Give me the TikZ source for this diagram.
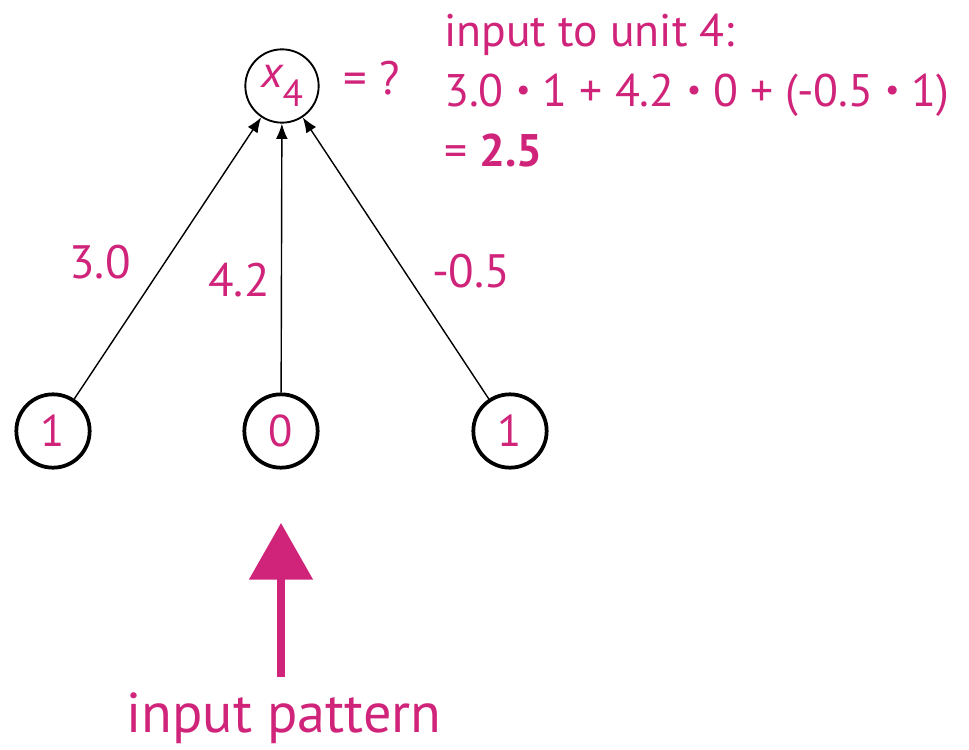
\documentclass[tikz,border=0pt]{standalone}
\usepackage{fontspec}
\setmainfont{PT Sans}
\usetikzlibrary{positioning,arrows.meta}
\definecolor{wtpink}{RGB}{208,36,122}
\newcommand{\mydot}{\ \raisebox{0.12em}{\scalebox{0.7}{\textbullet}}\ }
\tikzset{
  unit/.style   ={draw, circle, line width=3.2pt, minimum size=2.2cm, inner sep=0pt, text=wtpink, font=\fontsize{38}{42}\selectfont},
  outunit/.style={draw, circle, line width=1.6pt, minimum size=2.2cm, inner sep=0pt, text=wtpink, font=\fontsize{38}{42}\selectfont},
  wt/.style     ={text=wtpink, font=\fontsize{40}{46}\selectfont, inner sep=0pt},
  arr/.style    ={-{Latex[length=13pt, width=10pt]}, line width=1.2pt},
  bigarr/.style ={-{Triangle[length=1.7cm, width=1.86cm]}, line width=0.24cm, wtpink},
}
\begin{document}
\begin{tikzpicture}[x=0.03cm, y=-0.03cm]
  \useasboundingbox (0,0) rectangle (969,750);
  \node[outunit] (out) at (282,86) {\itshape x\raisebox{-0.42em}{\upshape\fontsize{32}{36}\selectfont 4}};
  \node[unit] (in1) at (53,431)  {1};
  \node[unit] (in2) at (281,431) {0};
  \node[unit] (in3) at (510,431) {1};

  \node[wt] (eq)  at (372,78) {= ?};
  \node[wt, anchor=north west, align=left, font=\fontsize{39}{51}\selectfont] (calc) at (444,14)
    {input to unit 4:\\3.0\mydot 1 + 4.2\mydot 0 + (-0.5\mydot 1)\\= \textbf{2.5}};

  \draw[arr] (in1) -- (out);
  \draw[arr] (in2) -- (out);
  \draw[arr] (in3) -- (out);
  \node[wt] (w1) at (100,262) {3.0};
  \node[wt] (w2) at (239,280) {4.2};
  \node[wt] (w3) at (471,271) {-0.5};

  \node[wt, font=\fontsize{48}{52}\selectfont] (pattern) at (284,718) {input pattern};
  \draw[bigarr, shorten <=0.45cm, shorten >=1.6cm] (pattern.north -| in2) -- (in2.south);
\end{tikzpicture}
\end{document}
